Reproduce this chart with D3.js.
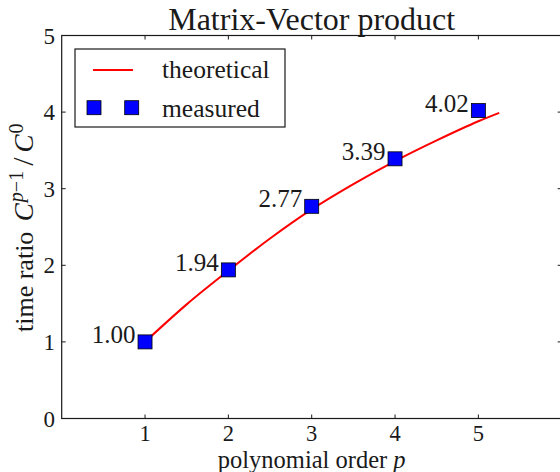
<!DOCTYPE html>
<html>
<head>
<meta charset="utf-8">
<script src="https://cdn.jsdelivr.net/npm/d3@7"></script>
<style>
  html, body { margin: 0; padding: 0; background: #fff; }
  svg { display: block; }
  text { font-family: "Liberation Serif", "DejaVu Serif", serif; fill: #1a1a1a; }
</style>
</head>
<body>
<svg id="chart" width="560" height="472"></svg>
<script>
// Polynomial order and measured time ratios
const orders = [1, 2, 3, 4, 5];
const measured = [1.00, 1.94, 2.77, 3.39, 4.02];

// Theoretical curve samples
const theoryOrder = [1, 1.5, 2, 2.5, 3, 3.5, 4, 4.5, 5, 5.25];
const theoryRatio = [1.00, 1.49, 1.93, 2.35, 2.73, 3.06, 3.36, 3.63, 3.88, 3.99];

// Axis ticks
const xTicks = [1, 2, 3, 4, 5];
const yTicks = [0, 1, 2, 3, 4, 5];

const svg = d3.select("#chart");
const plotL = 61.7, plotR = 561.7, plotT = 35.5, plotB = 418.5;

const x = d3.scaleLinear().domain([0, 6]).range([plotL, plotR]);
const y = d3.scaleLinear().domain([0, 5]).range([plotB, plotT]);

// Theoretical line
const line = d3.line()
  .x((d, i) => x(theoryOrder[i]))
  .y((d, i) => y(theoryRatio[i]))
  .curve(d3.curveMonotoneX);

svg.append("path")
  .datum(theoryRatio)
  .attr("d", line)
  .attr("fill", "none")
  .attr("stroke", "#ff0000")
  .attr("stroke-width", 2);

// Measured markers
const ms = 14;
svg.selectAll("rect.meas")
  .data(orders)
  .join("rect")
  .attr("class", "meas")
  .attr("x", (d) => x(d) - ms / 2)
  .attr("y", (d, i) => y(measured[i]) - ms / 2)
  .attr("width", ms)
  .attr("height", ms)
  .attr("fill", "#0000ff")
  .attr("stroke", "#000")
  .attr("stroke-width", 0.8);

// Value annotations
const fmt = d3.format(".2f");
svg.selectAll("text.ann")
  .data(orders)
  .join("text")
  .attr("class", "ann")
  .attr("x", (d) => x(d) - 9.5)
  .attr("y", (d, i) => y(measured[i]) + 1)
  .attr("text-anchor", "end")
  .attr("font-size", 25)
  .text((d, i) => fmt(measured[i]));

// Spines
const frame = svg.append("g").attr("stroke", "#1a1a1a").attr("stroke-width", 1.2).attr("fill", "none");
frame.append("rect")
  .attr("x", plotL).attr("y", plotT)
  .attr("width", plotR - plotL).attr("height", plotB - plotT);

// Inward ticks on all sides
const tl = 4;
const tg = svg.append("g").attr("stroke", "#1a1a1a").attr("stroke-width", 1);
xTicks.forEach((t) => {
  tg.append("line").attr("x1", x(t)).attr("x2", x(t)).attr("y1", plotB).attr("y2", plotB - tl);
  tg.append("line").attr("x1", x(t)).attr("x2", x(t)).attr("y1", plotT).attr("y2", plotT + tl);
});
yTicks.forEach((t) => {
  tg.append("line").attr("y1", y(t)).attr("y2", y(t)).attr("x1", plotL).attr("x2", plotL + tl);
  tg.append("line").attr("y1", y(t)).attr("y2", y(t)).attr("x1", plotR).attr("x2", plotR - tl);
});

// Tick labels
svg.selectAll("text.xt")
  .data(xTicks)
  .join("text")
  .attr("class", "xt")
  .attr("x", (d) => x(d))
  .attr("y", 440.5)
  .attr("text-anchor", "middle")
  .attr("font-size", 22.5)
  .text((d) => d);

svg.selectAll("text.yt")
  .data(yTicks)
  .join("text")
  .attr("class", "yt")
  .attr("x", 55)
  .attr("y", (d) => y(d) + 8)
  .attr("text-anchor", "end")
  .attr("font-size", 23)
  .text((d) => d);

// Title
svg.append("text")
  .attr("x", (plotL + plotR) / 2)
  .attr("y", 30)
  .attr("text-anchor", "middle")
  .attr("font-size", 32)
  .text("Matrix-Vector product");

// X axis label
const xl = svg.append("text")
  .attr("x", (plotL + plotR) / 2)
  .attr("y", 467.5)
  .attr("text-anchor", "middle")
  .attr("font-size", 24.5);
xl.append("tspan").text("polynomial order ");
xl.append("tspan").attr("font-style", "italic").text("p");

// Y axis label: time ratio C^{p-1}/C^0
const yl = svg.append("text")
  .attr("transform", "translate(33,332) rotate(-90)")
  .attr("text-anchor", "start")
  .attr("font-size", 26);
yl.append("tspan").text("time ratio ");
yl.append("tspan").attr("dx", 4).attr("font-size", 27).attr("font-style", "italic").text("C");
yl.append("tspan").attr("dx", 1).attr("font-style", "italic").attr("font-size", 20).attr("dy", -10).text("p");
yl.append("tspan").attr("font-size", 20).text("\u22121");
yl.append("tspan").attr("dx", 5).attr("dy", 10).attr("font-size", 30).text("/");
yl.append("tspan").attr("dx", 5).attr("font-size", 27).attr("font-style", "italic").text("C");
yl.append("tspan").attr("dx", 1).attr("font-size", 20).attr("dy", -10).text("0");

// Legend
const lg = svg.append("g");
lg.append("rect")
  .attr("x", 75).attr("y", 49)
  .attr("width", 210).attr("height", 78)
  .attr("fill", "#fff")
  .attr("stroke", "#1a1a1a")
  .attr("stroke-width", 1.2);
lg.append("line")
  .attr("x1", 93).attr("x2", 133)
  .attr("y1", 70).attr("y2", 70)
  .attr("stroke", "#ff0000").attr("stroke-width", 2);
[94, 131.7].forEach((cx) => {
  lg.append("rect")
    .attr("x", cx - ms / 2).attr("y", 107.7 - ms / 2)
    .attr("width", ms).attr("height", ms)
    .attr("fill", "#0000ff").attr("stroke", "#000").attr("stroke-width", 0.8);
});
lg.append("text").attr("x", 162).attr("y", 78).attr("font-size", 25.5).text("theoretical");
lg.append("text").attr("x", 162).attr("y", 116.5).attr("font-size", 25.5).text("measured");
</script>
</body>
</html>
